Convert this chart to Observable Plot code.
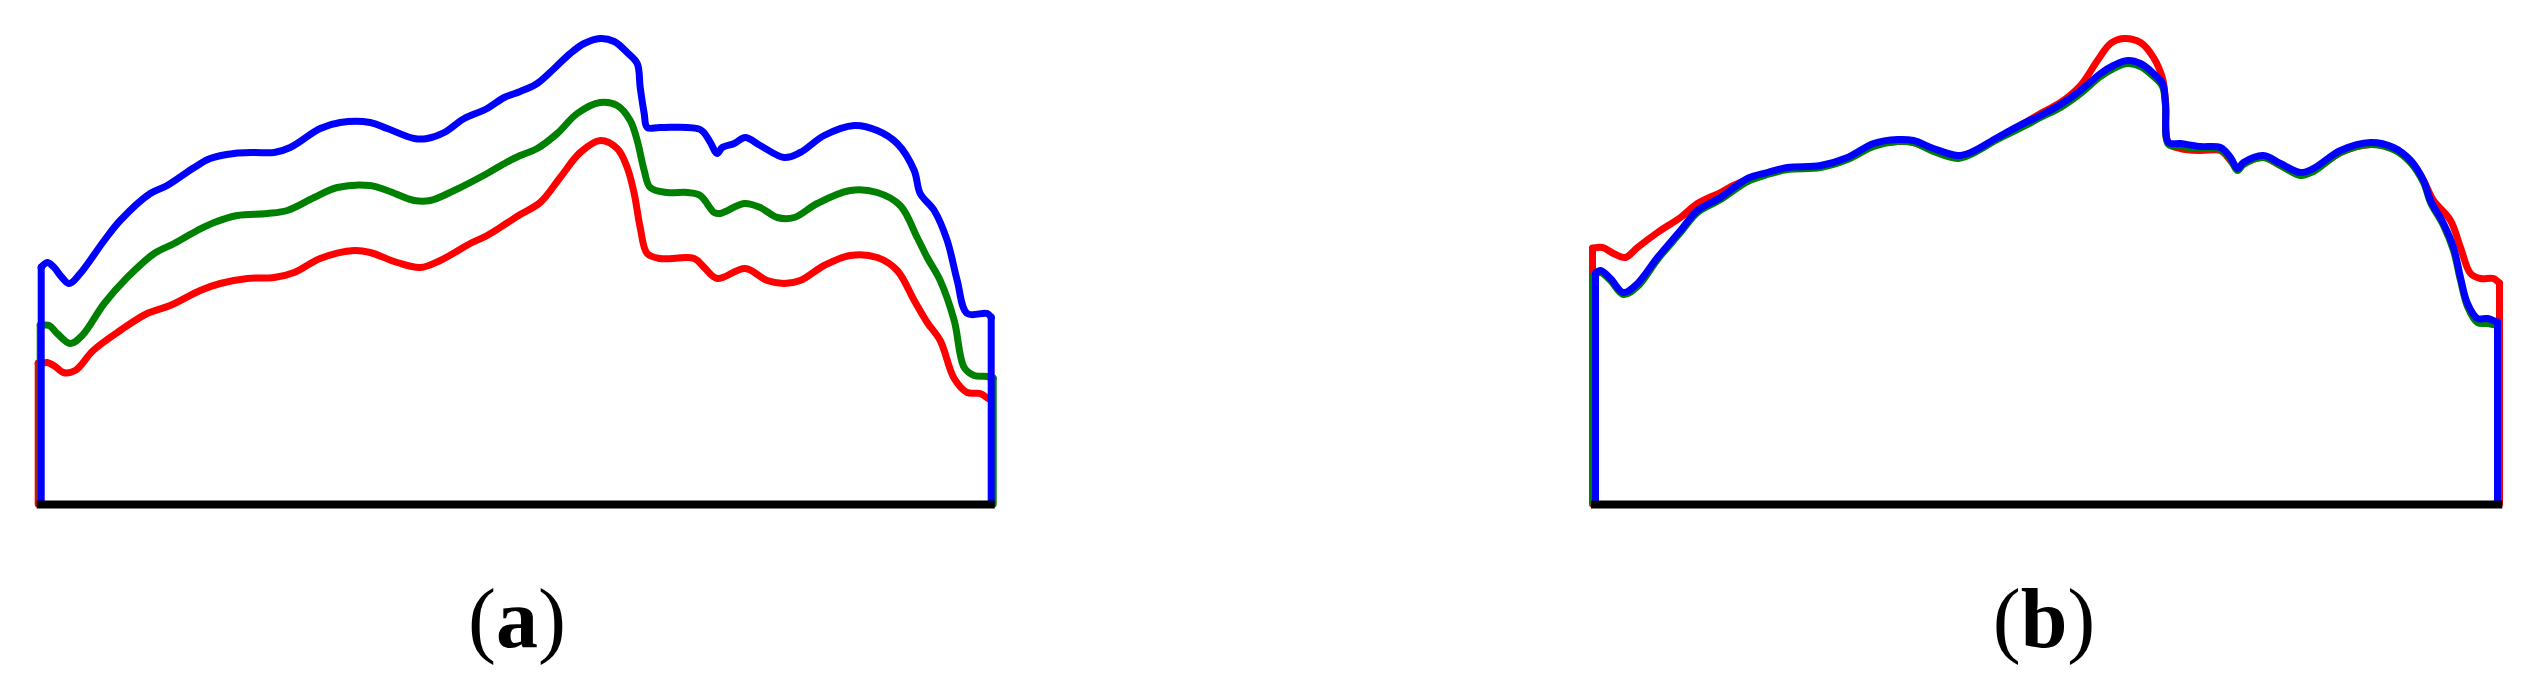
<!DOCTYPE html>
<html>
<head>
<meta charset="utf-8">
<script src="https://cdn.jsdelivr.net/npm/d3@7"></script>
<script src="https://cdn.jsdelivr.net/npm/@observablehq/plot@0.6"></script>
<style>
  html, body { margin: 0; padding: 0; background: #fff; }
  #page { position: relative; width: 2533px; height: 700px; overflow: hidden; background: #fff; }
  .panel { position: absolute; top: 0; }
  .cap { position: absolute; top: 577px; width: 400px; text-align: center;
         font-family: "Liberation Serif", "DejaVu Serif", serif; font-size: 84px; line-height: 84px; color: #000; }
  .cap b { font-weight: bold; }
</style>
</head>
<body>
<div id="page">
  <div id="pa" class="panel" style="left:0px"></div>
  <div id="pb" class="panel" style="left:1560px"></div>
  <div class="cap" style="left:317px">(<b>a</b>)</div>
  <div class="cap" style="left:1844px">(<b>b</b>)</div>
</div>
<script>
// Series names and colours
const seriesNames = ["red", "green", "blue"];
const seriesColors = ["#ff0000", "#009a00", "#0000ff"];

// Panel (a): [position, value] (each profile rises from 0 and drops back to 0)
const aRed = [[-3,0],[-3,141],[0,141],[6,142],[14,138],[22,132],[34,134],[52,154],[79,174],[106,191],[129,199],[159,214],[179,221],[206,226],[233,227],[253,232],[279,246],[313,254],[329,252],[356,242],[379,237],[399,244],[429,261],[446,269],[465,281],[479,290],[499,302],[519,327],[539,352],[559,364],[576,356],[586,337],[593,311],[599,277],[606,251],[619,246],[653,246],[663,237],[676,226],[704,236],[726,224],[743,221],[759,224],[783,239],[809,249],[836,247],[856,234],[873,204],[886,182],[899,164],[913,126],[926,112],[939,111],[947,106],[951,104],[951,0]];
const aGreen = [[-1,0],[-1,179],[8,179],[16,171],[29,161],[41,169],[63,201],[86,227],[113,251],[133,261],[156,274],[173,282],[196,289],[226,291],[246,294],[273,307],[296,317],[329,319],[346,314],[373,304],[389,304],[413,314],[446,331],[465,342],[479,349],[496,356],[516,371],[536,391],[559,402],[576,399],[589,384],[596,364],[603,334],[609,317],[626,312],[646,312],[659,309],[673,292],[679,291],[703,301],[719,297],[736,287],[753,287],[776,301],[809,314],[836,312],[859,299],[876,267],[886,247],[899,224],[913,184],[923,137],[933,129],[946,128],[952,126],[952,0]];
const aBlue = [[0,0],[0,237],[6,242],[13,237],[20,228],[28,221],[39,231],[63,264],[79,284],[109,311],[126,319],[153,337],[169,346],[193,351],[213,352],[233,352],[249,357],[279,376],[299,382],[329,382],[346,376],[373,366],[386,366],[403,372],[423,386],[446,396],[463,407],[479,413],[496,421],[513,436],[529,451],[543,461],[559,466],[573,463],[586,452],[596,441],[599,417],[603,391],[606,377],[619,377],[659,375],[668,364],[676,351],[681,357],[693,361],[704,367],[719,359],[743,347],[759,352],[783,369],[813,379],[836,374],[856,361],[873,334],[879,311],[893,294],[906,264],[916,224],[926,191],[946,191],[950,187],[950,0]];

// Panel (b)
const bRed = [[-3,0],[-3,256],[7,257],[18,251],[30,247],[42,257],[62,272],[85,287],[102,301],[125,312],[138,319],[152,325],[172,331],[192,336],[225,338],[252,346],[278,359],[302,363],[318,362],[338,354],[362,348],[375,351],[402,366],[428,381],[445,391],[465,402],[485,419],[502,444],[515,461],[528,466],[545,462],[558,447],[567,426],[570,404],[573,361],[585,356],[605,354],[625,354],[635,344],[642,336],[648,341],[668,347],[685,339],[705,331],[718,334],[745,352],[775,360],[798,356],[815,344],[828,324],[838,304],[855,284],[865,257],[875,231],[885,226],[898,226],[904,221],[905,0]];
const bGreen = [[-2,0],[-2,229],[5,232],[15,224],[28,210],[42,218],[62,245],[85,272],[102,292],[125,305],[152,323],[172,330],[192,335],[225,337],[252,345],[278,358],[302,363],[318,362],[338,353],[362,346],[375,350],[402,365],[428,378],[445,387],[465,397],[485,411],[505,428],[518,436],[532,441],[545,438],[558,428],[567,418],[570,399],[573,360],[585,358],[605,356],[625,355],[635,345],[642,334],[648,340],[668,347],[685,339],[705,329],[718,333],[745,352],[775,360],[798,355],[815,342],[828,322],[835,302],[848,279],[858,254],[865,224],[872,198],[882,182],[892,181],[902,179],[903,0]];
const bBlue = [[0,0],[0,231],[5,234],[15,226],[28,212],[42,221],[62,247],[85,274],[102,294],[125,307],[152,326],[172,332],[192,337],[225,339],[252,347],[278,361],[302,365],[318,364],[338,356],[362,349],[375,352],[402,367],[428,381],[445,389],[465,400],[485,414],[505,431],[518,439],[532,444],[545,441],[558,431],[567,421],[570,401],[573,362],[585,361],[605,358],[625,357],[635,347],[642,336],[648,342],[668,349],[685,341],[705,332],[718,336],[745,354],[775,362],[798,357],[815,344],[828,324],[835,304],[848,281],[858,257],[865,227],[872,201],[882,186],[892,186],[902,182],[903,0]];

function panel(lists, opts) {
  const curveRows = [];
  const edgeRows = [];
  lists.forEach((list, i) => {
    const s = seriesNames[i];
    const pos = list.filter(([, v]) => v > 0);
    pos.forEach(([x, v]) => curveRows.push({series: s, x, v}));
    const first = pos[0], last = pos[pos.length - 1];
    edgeRows.push({series: s, x: first[0], v: first[1]});
    edgeRows.push({series: s, x: last[0], v: last[1]});
  });
  return Plot.plot({
    width: opts.width,
    height: 540,
    marginLeft: opts.ml,
    marginRight: opts.mr,
    marginTop: 34,
    marginBottom: 36,
    x: {domain: opts.xdomain, axis: null},
    y: {domain: [0, 470], axis: null},
    color: {domain: seriesNames, range: seriesColors},
    style: {background: "white", overflow: "visible"},
    marks: seriesNames.flatMap(s => [
      Plot.ruleX(edgeRows.filter(d => d.series === s), {x: "x", y1: 0, y2: "v", stroke: "series",
        strokeWidth: 7, strokeLinecap: "round"}),
      Plot.line(curveRows.filter(d => d.series === s), {x: "x", y: "v", stroke: "series", strokeWidth: 7,
        curve: "catmull-rom", strokeLinejoin: "round", strokeLinecap: "round"})
    ]).concat([
      Plot.ruleY([0], {stroke: "black", strokeWidth: 8, strokeLinecap: "square"})
    ])
  });
}

document.getElementById("pa").appendChild(
  panel([aRed, aGreen, aBlue], {width: 1030, ml: 40.7, mr: 39.3, xdomain: [0, 950]}));
document.getElementById("pb").appendChild(
  panel([bRed, bGreen, bBlue], {width: 973, ml: 35, mr: 34.7, xdomain: [0, 903.3]}));
</script>
</body>
</html>
